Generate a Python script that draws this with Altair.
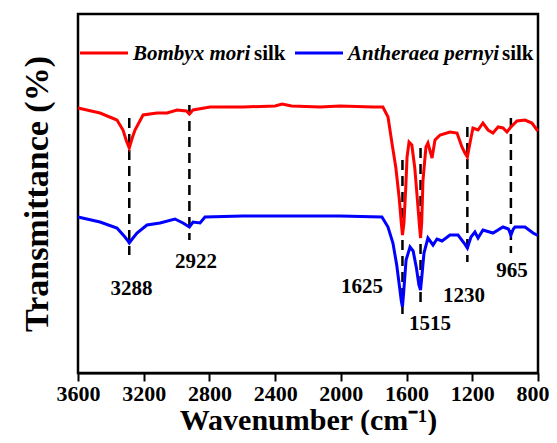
import altair as alt
import pandas as pd

# ---- data (y in arbitrary transmittance units) ----
bm_wn = [3600, 3466, 3363, 3326, 3305, 3288, 3270, 3253, 3204, 3119, 3058, 2997, 2940, 2922, 2900,
         2796, 2596, 2400, 2358, 2300, 2127, 2005, 1800, 1744, 1713, 1689, 1665, 1645, 1632, 1625,
         1616, 1605, 1597, 1585, 1568, 1550, 1535, 1522, 1515, 1508, 1500, 1482, 1470, 1445, 1427,
         1396, 1336, 1293, 1263, 1245, 1230, 1214, 1196, 1165, 1135, 1104, 1074, 1043, 1013, 989,
         965, 928, 879, 837, 806, 800]
bm_t = [265, 260, 253, 243, 232, 225, 235, 243, 258, 260, 260, 263, 262, 259, 263,
        266, 266, 267, 269, 267, 266, 267, 266, 266, 256, 230, 205, 175, 150, 138,
        150, 185, 216, 231, 228, 205, 175, 148, 135, 150, 193, 226, 230, 215, 233,
        238, 241, 240, 226, 220, 216, 230, 245, 243, 250, 243, 240, 246, 245, 241,
        246, 252, 253, 250, 243, 242]

ap_wn = [3600, 3466, 3363, 3314, 3300, 3288, 3270, 3241, 3180, 3101, 3010, 2961, 2922, 2900, 2857,
         2827, 2596, 2127, 2005, 1750, 1713, 1683, 1660, 1642, 1632, 1625, 1618, 1603, 1579, 1560,
         1540, 1525, 1515, 1505, 1494, 1470, 1439, 1415, 1384, 1336, 1287, 1250, 1230, 1208, 1184,
         1165, 1135, 1074, 1013, 980, 965, 950, 940, 879, 830, 806, 800]
ap_t = [156, 151, 145, 136, 133, 130, 134, 140, 148, 150, 154, 150, 146, 151, 150,
        156, 157, 157, 157, 156, 146, 130, 108, 85, 72, 66, 80, 113, 126, 122,
        105, 88, 83, 100, 120, 135, 128, 134, 132, 138, 138, 130, 125, 136, 141,
        135, 143, 140, 146, 144, 138, 144, 146, 146, 140, 138, 138]

peaks = [3288, 2922, 1625, 1515, 1230, 965]
peak_top = [255, 268, 213, 225, 246, 255]
peak_bottom = [118, 133, 53, 66, 111, 120]
label_text = ["3288", "2922", "1625", "1515", "1230", "965"]
label_wn = [3274, 2882, 1871, 1457, 1250, 958]
label_t = [84, 111, 86, 49, 77, 102]

x_ticks = [3600, 3200, 2800, 2400, 2000, 1600, 1200, 800]

FONT = "Times New Roman"
RED = "#ff0000"
BLUE = "#0000ff"

spec = pd.concat([
    pd.DataFrame({"wn": bm_wn, "t": bm_t, "sample": "Bombyx mori silk"}),
    pd.DataFrame({"wn": ap_wn, "t": ap_t, "sample": "Antheraea pernyi silk"}),
], ignore_index=True)
peaks_df = pd.DataFrame({"wn": peaks, "top": peak_top, "bottom": peak_bottom})
labels_df = pd.DataFrame({"wn": label_wn, "t": label_t, "label": label_text})

xscale = alt.Scale(domain=[3600, 800], nice=False, zero=False)
yscale = alt.Scale(domain=[0, 359], nice=False, zero=False)

xenc = alt.X("wn:Q", scale=xscale,
             axis=alt.Axis(title="Wavenumber (cm⁻¹)", values=x_ticks, format="d",
                           grid=False, tickSize=8, tickWidth=2, tickColor="black",
                           domainColor="black", domainWidth=2,
                           labelFont=FONT, labelFontSize=22, labelFontWeight="bold",
                           labelColor="black", labelPadding=2, labelFlush=False,
                           labelOverlap=False,
                           labelAlign={"condition": {"test": "datum.value === 800", "value": "right"},
                                       "value": "center"},
                           labelOffset={"condition": {"test": "datum.value === 800", "value": 11},
                                        "value": 0},
                           titleFont=FONT, titleFontSize=30, titleFontWeight="bold",
                           titleColor="black", titlePadding=1))
yenc = alt.Y("t:Q", scale=yscale,
             axis=alt.Axis(title="Transmittance (%)", labels=False, ticks=False, grid=False,
                           domain=False,
                           titleFont=FONT, titleFontSize=34, titleFontWeight="bold",
                           titleColor="black", titlePadding=24))

lines = alt.Chart(spec).mark_line(strokeWidth=3, interpolate="linear").encode(
    x=xenc, y=yenc,
    color=alt.Color("sample:N", scale=alt.Scale(domain=["Bombyx mori silk", "Antheraea pernyi silk"],
                                                range=[RED, BLUE]), legend=None),
    detail="sample:N",
)

dashes = alt.Chart(peaks_df).mark_rule(color="black", strokeWidth=2.5, strokeDash=[10, 6]).encode(
    x=alt.X("wn:Q", scale=xscale), y=alt.Y("top:Q", scale=yscale), y2="bottom:Q")

plabels = alt.Chart(labels_df).mark_text(font=FONT, fontSize=21, fontWeight="bold",
                                         color="black", align="center", baseline="middle").encode(
    x=alt.X("wn:Q", scale=xscale), y=alt.Y("t:Q", scale=yscale), text="label:N")

# custom legend (mixed italic / upright text)
leg_line_red = alt.Chart(pd.DataFrame({"k": [0]})).mark_rule(color=RED, strokeWidth=3).encode(
    x=alt.value(2), x2=alt.value(50), y=alt.value(39))
leg_line_blue = alt.Chart(pd.DataFrame({"k": [0]})).mark_rule(color=BLUE, strokeWidth=3).encode(
    x=alt.value(217), x2=alt.value(265), y=alt.value(39))

def leg_text(txt, x, italic):
    return alt.Chart(pd.DataFrame({"k": [0]})).mark_text(
        font=FONT, fontSize=21, fontWeight="bold", fontStyle="italic" if italic else "normal",
        color="black", align="left", baseline="middle", text=txt).encode(
        x=alt.value(x), y=alt.value(40))

legend = (leg_line_red + leg_line_blue
          + leg_text("Bombyx mori", 55, True) + leg_text("silk", 176, False)
          + leg_text("Antheraea pernyi", 270, True) + leg_text("silk", 424, False))

chart = (dashes + lines + plabels + legend).properties(
    width=460, height=359,
    background="white",
    autosize=alt.AutoSizeParams(type="none"),
    padding={"left": 70, "top": 6, "right": 11, "bottom": 62},
).configure(font=FONT).configure_view(stroke="black", strokeWidth=2.5)

chart.save("out.html", embed_options={"renderer": "svg", "actions": False})
